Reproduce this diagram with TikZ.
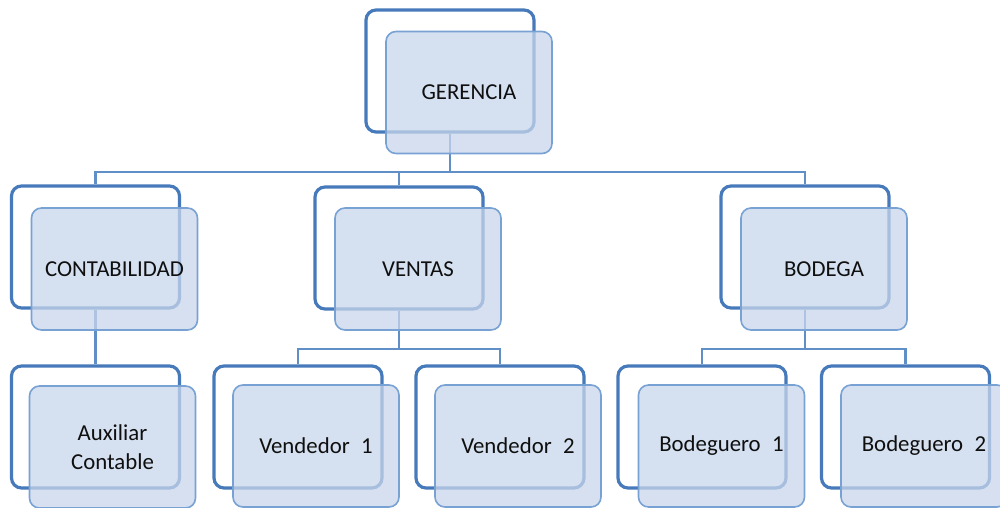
\documentclass[tikz,border=0pt]{standalone}
\usepackage{fontspec}
\setmainfont{Carlito}
\usetikzlibrary{backgrounds}
\definecolor{backline}{RGB}{70,122,186}
\definecolor{frontline}{RGB}{120,162,212}
\definecolor{frontfill}{RGB}{200,214,235}
\definecolor{conn}{RGB}{96,142,198}
\definecolor{txt}{RGB}{15,15,15}
\tikzset{
  backbox/.style={draw=backline, line width=1.6pt, fill=white, rounded corners=5pt,
    minimum width=84pt, minimum height=61pt, inner sep=0pt},
  frontbox/.style={draw=frontline, line width=0.8pt, fill=frontfill, fill opacity=0.75,
    text opacity=1, rounded corners=5pt, minimum width=83pt, minimum height=61pt,
    inner sep=0pt, align=center, text=txt, font=\fontsize{11.4}{14.5}\selectfont},
  connline/.style={draw=conn, line width=1.1pt}
}
\begin{document}
\begin{tikzpicture}[x=0.5pt,y=-0.5pt]
\useasboundingbox (0,0) rectangle (1000,508);
% back boxes and front boxes
\node[backbox] (gerb) at (450,71) {};
\node[frontbox] (gerf) at (469,92.5) {GERENCIA};
\node[backbox] (contb) at (95.5,247) {};
\node[frontbox] (contf) at (114.5,269) {CONTABILIDAD};
\node[backbox] (ventb) at (399,248) {};
\node[frontbox] (ventf) at (418,269) {VENTAS};
\node[backbox] (bodb) at (805,247) {};
\node[frontbox] (bodf) at (824,269) {BODEGA};
\node[backbox] (auxb) at (95.5,427) {};
\node[frontbox] (auxf) at (112.5,447) {Auxiliar\\Contable};
\node[backbox] (v1b) at (298,427) {};
\node[frontbox] (v1f) at (316,446) {Vendedor\hspace{0.5em}1};
\node[backbox] (v2b) at (500,427) {};
\node[frontbox] (v2f) at (518,446) {Vendedor\hspace{0.5em}2};
\node[backbox] (b1b) at (702,427) {};
\node[frontbox] (b1f) at (721.5,446) {Bodeguero\hspace{0.5em}1};
\node[backbox] (b2b) at (905.5,427) {};
\node[frontbox] (b2f) at (924,446) {Bodeguero\hspace{0.5em}2};
% bus coordinates
\coordinate (bus0) at (450,172);
\coordinate (bus1) at (399,349);
\coordinate (bus2) at (805,349);
\begin{scope}[on background layer]
\draw[connline] (gerb.south) -- (bus0);
\draw[connline] (bus0) -| (contb.north);
\draw[connline] (bus0) -| (ventb.north);
\draw[connline] (bus0) -| (bodb.north);
\draw[connline] (contb.south) -- (auxb.north);
\draw[connline] (ventb.south) -- (bus1);
\draw[connline] (bus1) -| (v1b.north);
\draw[connline] (bus1) -| (v2b.north);
\draw[connline] (bodb.south) -- (bus2);
\draw[connline] (bus2) -| (b1b.north);
\draw[connline] (bus2) -| (b2b.north);
\end{scope}
\end{tikzpicture}
\end{document}
